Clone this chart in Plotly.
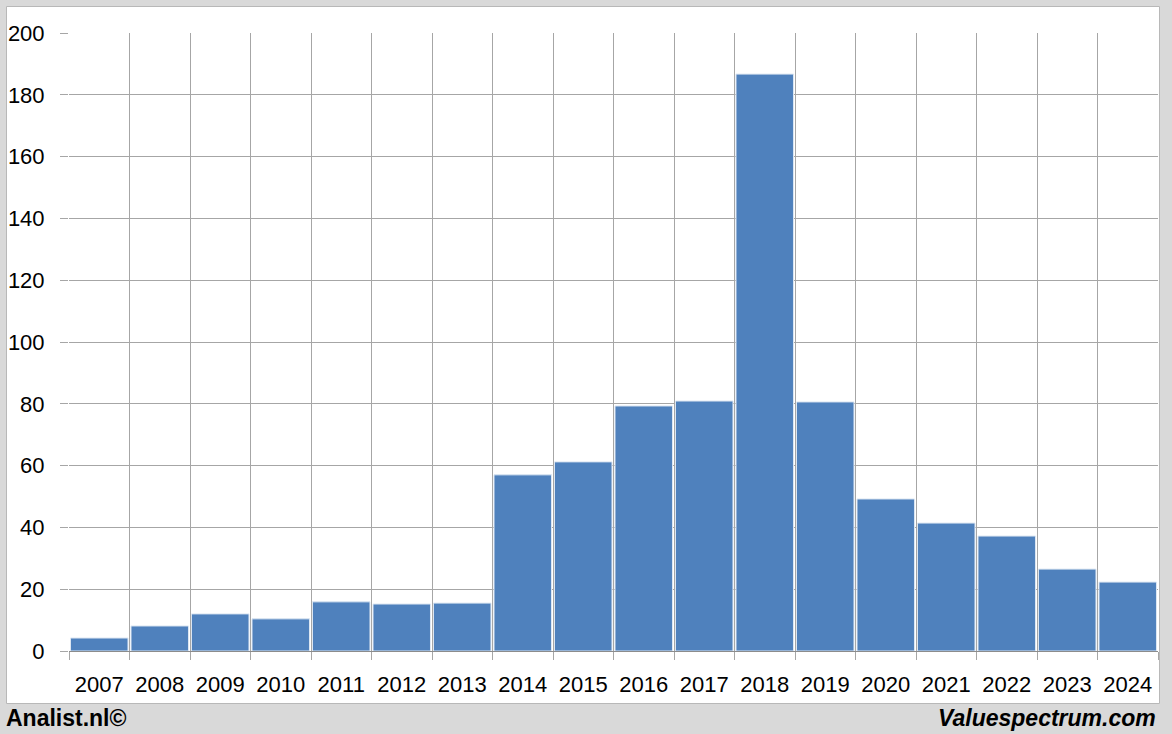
import plotly.graph_objects as go

years = ["2007", "2008", "2009", "2010", "2011", "2012", "2013", "2014", "2015",
         "2016", "2017", "2018", "2019", "2020", "2021", "2022", "2023", "2024"]
values = [4.2, 8.1, 12.0, 10.4, 15.9, 15.2, 15.5, 57.0, 61.2,
          79.3, 80.9, 186.7, 80.6, 49.2, 41.4, 37.2, 26.5, 22.3]
y_ticks = [0, 20, 40, 60, 80, 100, 120, 140, 160, 180, 200]

W, H = 1172, 734
L, R, T, B = 69, 14, 33, 83
pw, ph = W - L - R, H - T - B

def px_x(p):
    return (p - L) / pw

def px_y(p):
    return (H - B - p) / ph

fig = go.Figure()
fig.add_trace(go.Bar(
    x=years, y=values,
    marker=dict(color="#4f81bd", line=dict(color="#dce6f2", width=1)),
    hoverinfo="x+y",
))

grid = "#a6a6a6"
fig.update_layout(
    width=W, height=H,
    margin=dict(l=L, r=R, t=T, b=B, autoexpand=False),
    paper_bgcolor="#d9d9d9",
    plot_bgcolor="white",
    bargap=0.05,
    showlegend=False,
    font=dict(family="Liberation Sans, Arial, sans-serif", color="black"),
    xaxis=dict(
        type="category", range=[-0.5, 17.5],
        tickson="boundaries", ticks="outside", ticklen=8, tickcolor=grid,
        showgrid=True, gridcolor=grid, gridwidth=1,
        showline=True, linecolor="#8c8c8c", linewidth=1,
        tickfont=dict(size=22), ticklabelstandoff=14,
        fixedrange=True, automargin=False,
    ),
    yaxis=dict(
        range=[0, 200], tickvals=y_ticks,
        ticks="outside", ticklen=8, tickcolor=grid,
        showgrid=True, gridcolor=grid, gridwidth=1,
        zeroline=False, showline=False,
        tickfont=dict(size=22), ticklabelstandoff=11,
        fixedrange=True, automargin=False,
    ),
    shapes=[dict(
        type="rect", xref="paper", yref="paper", layer="below",
        x0=px_x(6.5), x1=px_x(1159.5), y0=px_y(703.5), y1=px_y(6.5),
        fillcolor="white", line=dict(width=1, color="#b8b8b8"),
    )],
    annotations=[
        dict(text="<b>Analist.nl©</b>", xref="paper", yref="paper",
             x=px_x(4), y=px_y(718), xanchor="left", yanchor="middle",
             showarrow=False, font=dict(size=23, color="black")),
        dict(text="<b><i>Valuespectrum.com</i></b>", xref="paper", yref="paper",
             x=px_x(1158), y=px_y(718), xanchor="right", yanchor="middle",
             showarrow=False, font=dict(size=23, color="black")),
    ],
)

fig.write_html(
    "out.html",
    config={"displayModeBar": False},
    post_script="document.body.style.margin='0';document.body.style.overflow='hidden';",
)
